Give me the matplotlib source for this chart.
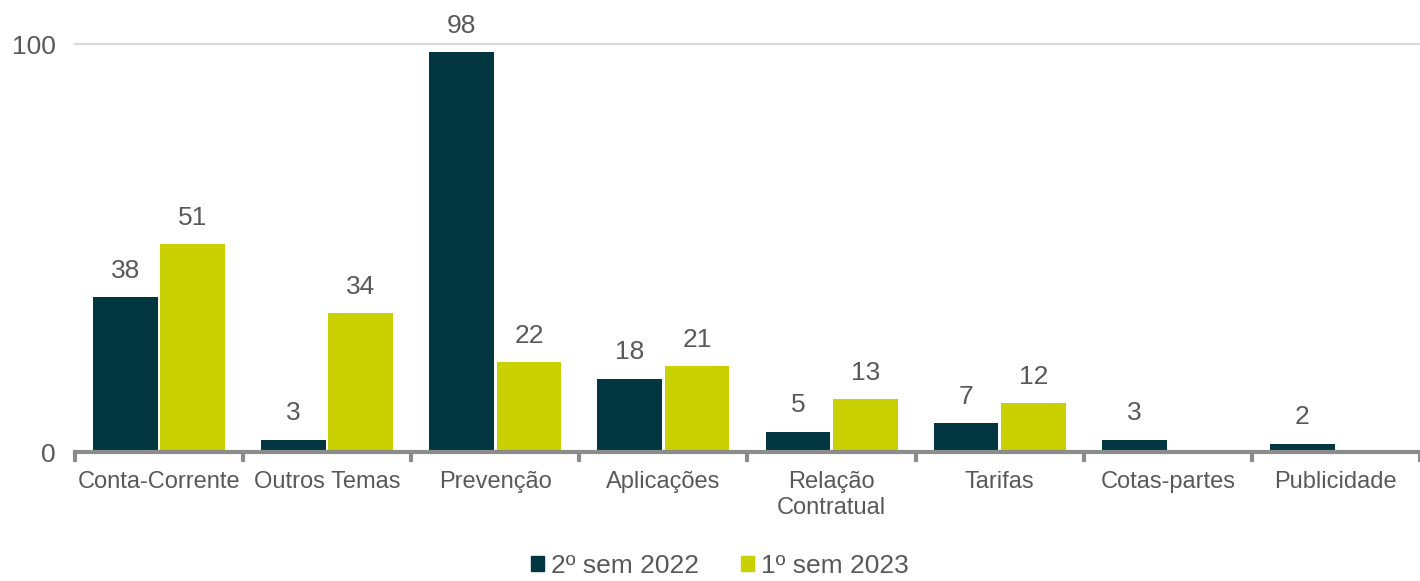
import numpy as np
import matplotlib.pyplot as plt
from matplotlib.patches import Patch

plt.rcParams['font.family'] = ['Liberation Sans', 'DejaVu Sans']

categories = ['Conta-Corrente', 'Outros Temas', 'Prevenção', 'Aplicações',
              'Relação\nContratual', 'Tarifas', 'Cotas-partes', 'Publicidade']
sem2_2022 = [38, 3, 98, 18, 5, 7, 3, 2]
sem1_2023 = [51, 34, 22, 21, 13, 12, None, None]
series_names = ['2º sem 2022', '1º sem 2023']

dark = '#023742'
lime = '#C9D200'
txt = '#595959'

fig = plt.figure(figsize=(14.2, 5.81), dpi=100)
ax = fig.add_axes([0.0528, 0.222, 0.9472, 0.7021])

x = np.arange(len(categories))
w = 0.385
off = 0.2

for vals, color, sign in [(sem2_2022, dark, -1), (sem1_2023, lime, 1)]:
    for xi, v in zip(x, vals):
        if v is None:
            continue
        ax.bar(xi + sign * off, v, width=w, color=color, zorder=3)
        ax.annotate(str(v), (xi + sign * off, v), xytext=(0, 19),
                    textcoords='offset points', ha='center', va='center',
                    fontsize=19, color=txt, zorder=5, annotation_clip=False,
                    bbox=dict(boxstyle='square,pad=0.15', fc='white', ec='none'))

ax.set_xlim(-0.5, len(categories) - 0.5)
ax.set_ylim(0, 100)
ax.set_yticks([0, 100])
ax.set_yticklabels(['0', '100'])
ax.tick_params(axis='y', length=0, labelsize=19, labelcolor=txt, pad=14)

ax.set_xticks(x)
ax.set_xticklabels(categories)
ax.tick_params(axis='x', which='major', length=0, labelsize=17, labelcolor=txt, pad=14)
ax.set_xticks(np.arange(len(categories) + 1) - 0.5, minor=True)
ax.tick_params(axis='x', which='minor', length=7, width=3, color='#8C8C8C')

ax.axhline(100, color='#D9D9D9', lw=1.5, zorder=1, clip_on=False)
for s in ['top', 'right', 'left']:
    ax.spines[s].set_visible(False)
ax.spines['bottom'].set_color('#8C8C8C')
ax.spines['bottom'].set_linewidth(3)
ax.spines['bottom'].set_zorder(4)

handles = [Patch(color=dark), Patch(color=lime)]
fig.legend(handles, series_names, loc='lower center', bbox_to_anchor=(0.507, -0.036),
           ncol=2, frameon=False, fontsize=19, labelcolor=txt,
           handlelength=0.5, handleheight=0.5, handletextpad=0.25, columnspacing=1.6)

fig.savefig('out.png', dpi=100)
